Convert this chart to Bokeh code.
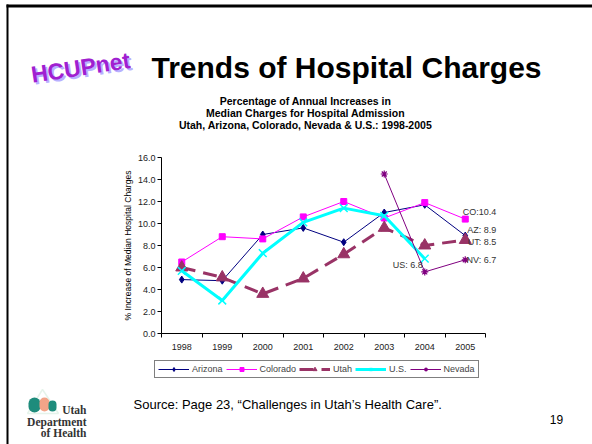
from math import pi
from bokeh.plotting import figure
from bokeh.models import (Range1d, FixedTicker, PrintfTickFormatter, Label, Legend,
                          LegendItem, BoxAnnotation, PolyAnnotation, LinearAxis)
from bokeh.embed import file_html
from bokeh.resources import INLINE

# ---------------- data ----------------
years = ["1998", "1999", "2000", "2001", "2002", "2003", "2004", "2005"]
arizona = [4.9, 4.8, 9.0, 9.6, 8.3, 11.0, 11.7, 8.9]
colorado = [6.5, 8.8, 8.6, 10.6, 12.0, 10.5, 11.9, 10.4]
utah = [6.0, 5.1, 3.6, 5.0, 7.2, 9.6, 8.0, 8.5]
us_years = ["1998", "1999", "2000", "2001", "2002", "2003", "2004"]
us = [5.7, 3.0, 7.3, 10.1, 11.4, 10.7, 6.8]
nevada_years = ["2003", "2004", "2005"]
nevada = [14.5, 5.6, 6.7]
y_ticks = [0, 2, 4, 6, 8, 10, 12, 14, 16]
y_max = 16

title_text = "Trends of Hospital Charges"
chart_title = ["Percentage of Annual Increases in",
               "Median Charges for Hospital Admission",
               "Utah, Arizona, Colorado, Nevada & U.S.: 1998-2005"]
y_label = "% Increase of Median Hospital Charges"
source_text = "Source: Page 23, \u201cChallenges in Utah\u2019s Health Care\u201d."
page_no = "19"

# ---------------- layout (pixels) ----------------
FONT = "Liberation Sans"
SERIF = "Liberation Serif"
W, H = 592, 444
PL, PR, PT, PB = 161, 485, 157, 333      # chart plot-area box on the slide
n = len(years)
x_scale = n / (PR - PL)
y_scale = y_max / (PB - PT)


def pos(yr):
    return years.index(yr) + 0.5


xs = [pos(y) for y in years]
us_x = [pos(y) for y in us_years]
nv_x = [pos(y) for y in nevada_years]

p = figure(width=W, height=H,
           x_range=Range1d(-PL * x_scale, n + (W - PR) * x_scale),
           y_range=Range1d(-(H - PB) * y_scale, y_max + PT * y_scale),
           x_axis_location=None, y_axis_location=None,
           output_backend="svg", toolbar_location=None, min_border=0)
p.min_border_left = p.min_border_right = p.min_border_top = p.min_border_bottom = 0
p.grid.visible = False
p.outline_line_color = None
p.background_fill_color = "white"
p.border_fill_color = "white"

# x axis: labels at category centres, ticks at category boundaries
xaxis = LinearAxis(fixed_location=0, bounds=(0, n),
                   ticker=FixedTicker(ticks=xs, minor_ticks=list(range(n + 1))),
                   major_label_overrides={x: y for x, y in zip(xs, years)},
                   major_tick_line_color=None, major_tick_out=0, major_tick_in=0,
                   minor_tick_out=4, minor_tick_in=0, minor_tick_line_color="black",
                   major_label_standoff=6, major_label_text_font=FONT,
                   major_label_text_font_size="9px", major_label_text_color="#222222",
                   axis_line_color="black")
p.add_layout(xaxis, "below")

yaxis = LinearAxis(fixed_location=0, bounds=(0, y_max),
                   ticker=FixedTicker(ticks=y_ticks),
                   formatter=PrintfTickFormatter(format="%.1f"),
                   major_tick_out=4, major_tick_in=0, minor_tick_line_color=None,
                   major_label_standoff=2, major_label_text_font=FONT,
                   major_label_text_font_size="9px", major_label_text_color="#222222",
                   axis_line_color="black")
p.add_layout(yaxis, "left")

# ---------------- series ----------------
az_l = p.line(xs, arizona, line_color="#000080", line_width=1)
az_m = p.scatter(xs, arizona, marker="diamond", size=7, color="#000080")
co_l = p.line(xs, colorado, line_color="#FF00FF", line_width=1)
co_m = p.scatter(xs, colorado, marker="square", size=6, color="#FF00FF")
ut_l = p.line(xs, utah, line_color="#993366", line_width=3, line_dash="14 8")
ut_m = p.scatter(xs, utah, marker="triangle", size=12, color="#993366")
us_l = p.line(us_x, us, line_color="#00FFFF", line_width=3)
us_m = p.scatter(us_x, us, marker="x", size=11, line_color="#00FFFF", line_width=1.5)
nv_l = p.line(nv_x, nevada, line_color="#800080", line_width=1)
nv_m = p.scatter(nv_x, nevada, marker="asterisk", size=7, line_color="#800080", line_width=1.2)

legend = Legend(items=[LegendItem(label="Arizona", renderers=[az_l, az_m]),
                       LegendItem(label="Colorado", renderers=[co_l, co_m]),
                       LegendItem(label="Utah", renderers=[ut_l, ut_m]),
                       LegendItem(label="U.S.", renderers=[us_l, us_m]),
                       LegendItem(label="Nevada", renderers=[nv_l, nv_m])],
                orientation="horizontal", location=(154, H - 378),
                label_text_font=FONT, label_text_font_size="9px",
                glyph_width=31, glyph_height=10, label_height=10, label_width=10,
                label_standoff=3, spacing=3, padding=3, margin=0,
                border_line_color="black", border_line_width=1,
                background_fill_color="white", background_fill_alpha=1)
p.add_layout(legend)

# end-of-series data labels
lab_kw = dict(text_font=FONT, text_font_size="9px", text_color="#333333",
              text_baseline="middle", text_align="right")
p.add_layout(Label(x=xs[-1], y=colorado[-1], text=f"CO:{colorado[-1]}", x_offset=31, y_offset=7, **lab_kw))
p.add_layout(Label(x=xs[-1], y=arizona[-1], text=f"AZ: {arizona[-1]}", x_offset=31, y_offset=6, **lab_kw))
p.add_layout(Label(x=xs[-1], y=utah[-1], text=f"UT: {utah[-1]}", x_offset=31, y_offset=-2, **lab_kw))
p.add_layout(Label(x=nv_x[-1], y=nevada[-1], text=f"NV: {nevada[-1]}", x_offset=31, y_offset=0, **lab_kw))
p.add_layout(Label(x=us_x[-1], y=us[-1], text=f"US: {us[-1]}", x_offset=-2, y_offset=-6, **lab_kw))


# ---------------- slide decorations (screen units, origin bottom-left) ----------------
def lab(text, X, Y, **kw):
    base = dict(x=X, y=H - Y, x_units="screen", y_units="screen", text=text,
                text_font=FONT, text_color="black")
    base.update(kw)
    p.add_layout(Label(**base))


def box(l, t, r, b, color, **kw):
    p.add_layout(BoxAnnotation(left=l, right=r, top=H - t, bottom=H - b,
                               left_units="screen", right_units="screen",
                               top_units="screen", bottom_units="screen",
                               fill_color=color, fill_alpha=1, line_color=None, **kw))


# slide frame (top and left edges)
box(6, 4, W, 7, "black")
box(6, 4, 8, H, "black")

lab(title_text, 346, 67, text_font_size="30px", text_font_style="bold",
    text_align="center", text_baseline="alphabetic")
for i, line in enumerate(chart_title):
    lab(line, 305, 100 + 12 * i, text_font_size="10.5px", text_font_style="bold",
        text_align="center", text_baseline="middle")
lab(y_label, 127, 245, text_font_size="8.5px", angle=pi / 2, text_align="center",
    text_baseline="middle")
lab(source_text, 133, 404, text_font_size="13px", text_baseline="middle")
lab(page_no, 556, 419, text_font_size="12px", text_align="center", text_baseline="middle")

# HCUPnet logo (word-art approximation)
lab("HCUPnet", 82, 69, text_font_size="23px", text_font_style="bold", text_color="#B8B0FF",
    text_align="center", text_baseline="middle", angle=0.15)
lab("HCUPnet", 80, 67, text_font_size="23px", text_font_style="bold", text_color="#A020D0",
    text_align="center", text_baseline="middle", angle=0.15)

# Utah Department of Health logo
p.add_layout(PolyAnnotation(xs=[42, 27, 58], ys=[H - 389, H - 413, H - 413],
                            xs_units="screen", ys_units="screen",
                            fill_alpha=0, line_color="#A8D8B8", line_width=1.5))
box(28, 397, 40, 412, "#1E8C7C", border_radius=6)
box(39, 397, 49, 411, "#F2A488", border_radius=5)
box(48, 400, 56, 411, "#1E8C7C", border_radius=4)
for txt, yy in (("Utah", 409), ("Department", 421), ("of Health", 432)):
    lab(txt, 86, yy, text_font=SERIF, text_font_size="11.5px", text_font_style="bold",
        text_align="right", text_baseline="middle", text_color="#333333")

open("out.html", "w").write(file_html(p, INLINE))
